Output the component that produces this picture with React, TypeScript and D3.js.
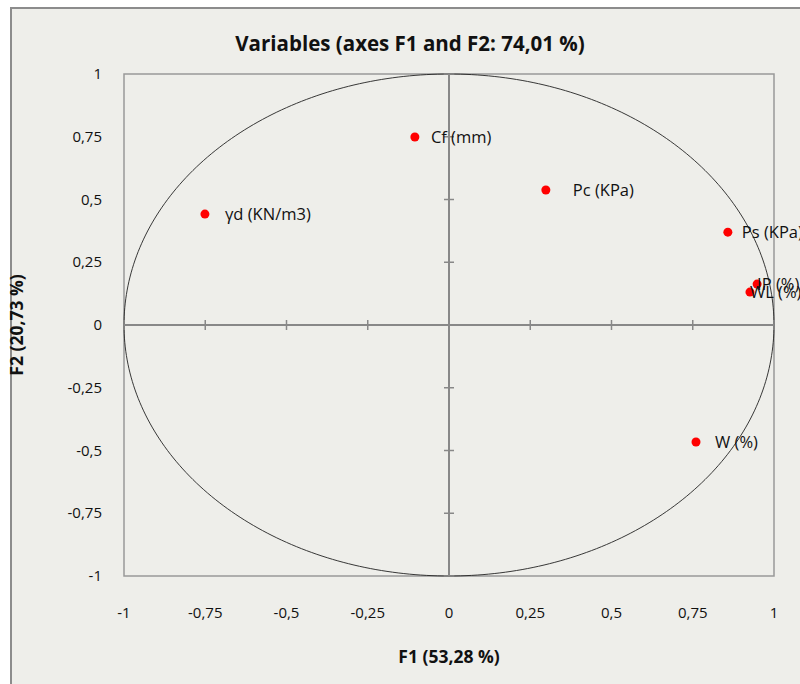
import React from "react";
import * as d3 from "d3";

const labels = ["Cf (mm)", "Pc (KPa)", "γd  (KN/m3)", "Ps (KPa)", "IP (%)", "WL (%)", "W (%)"];
const f1 = [-0.105, 0.298, -0.751, 0.858, 0.948, 0.926, 0.76];
const f2 = [0.749, 0.538, 0.442, 0.37, 0.163, 0.131, -0.466];
const ticks = [-1, -0.75, -0.5, -0.25, 0, 0.25, 0.5, 0.75, 1];
// label placement offsets (px), as in the reference
const labelDx = [16, 27, 20, 14, 0, 0, 19];

const W = 800, H = 684;
const left = 124, right = 774, top = 74, bottom = 576;
const font = "'Open Sans', sans-serif";

export default function App() {
  const x = d3.scaleLinear().domain([-1, 1]).range([left, right]);
  const y = d3.scaleLinear().domain([-1, 1]).range([bottom, top]);
  const fmt = (v: number) => String(v).replace(".", ",");
  const circle = d3.range(0, 361, 1).map((a) => [Math.cos((a * Math.PI) / 180), Math.sin((a * Math.PI) / 180)] as [number, number]);
  const line = d3.line<[number, number]>().x((d) => x(d[0])).y((d) => y(d[1]));
  return (
    <svg width={W} height={H} style={{ position: "absolute", left: 0, top: 0 }}>
      <rect x={0} y={0} width={W} height={H} fill="#fff" />
      <rect x={11} y={8} width={W} height={H} fill="#EEEEEA" stroke="#8c8c8c" strokeWidth={2} />
      <rect x={left} y={top} width={right - left} height={bottom - top} fill="#EEEEEA" stroke="#999" strokeWidth={1.5} />
      <path d={line(circle) || ""} fill="none" stroke="#222" strokeWidth={0.9} />
      <line x1={x(-1)} x2={x(1)} y1={y(0)} y2={y(0)} stroke="#888" strokeWidth={2} />
      <line x1={x(0)} x2={x(0)} y1={y(-1)} y2={y(1)} stroke="#888" strokeWidth={2} />
      {ticks.map((t) => (
        <g key={"t" + t}>
          <line x1={x(t)} x2={x(t)} y1={y(0) - 5} y2={y(0) + 5} stroke="#888" strokeWidth={1.5} />
          <line x1={x(0) - 5} x2={x(0) + 5} y1={y(t)} y2={y(t)} stroke="#888" strokeWidth={1.5} />
          <text x={x(t)} y={618} textAnchor="middle" fontFamily={font} fontSize={15} fill="#111">{fmt(t)}</text>
          <text x={102} y={y(t) + 5} textAnchor="end" fontFamily={font} fontSize={15} fill="#111">{fmt(t)}</text>
        </g>
      ))}
      {labels.map((l, i) => (
        <g key={l}>
          <circle cx={x(f1[i])} cy={y(f2[i])} r={4.5} fill="#ff0000" />
          <text x={x(f1[i]) + (labelDx[i] || 0)} y={y(f2[i]) + 6} fontFamily={font} fontSize={16.5} fill="#111">{l}</text>
        </g>
      ))}
      <text x={410} y={51} textAnchor="middle" fontFamily={font} fontWeight="bold" fontSize={20.5} fill="#111">Variables (axes F1 and F2: 74,01 %)</text>
      <text x={449} y={663} textAnchor="middle" fontFamily={font} fontWeight="bold" fontSize={17.5} fill="#111">F1 (53,28 %)</text>
      <text transform={`translate(23,${y(0)}) rotate(-90)`} textAnchor="middle" fontFamily={font} fontWeight="bold" fontSize={17.5} fill="#111">F2 (20,73 %)</text>
    </svg>
  );
}
